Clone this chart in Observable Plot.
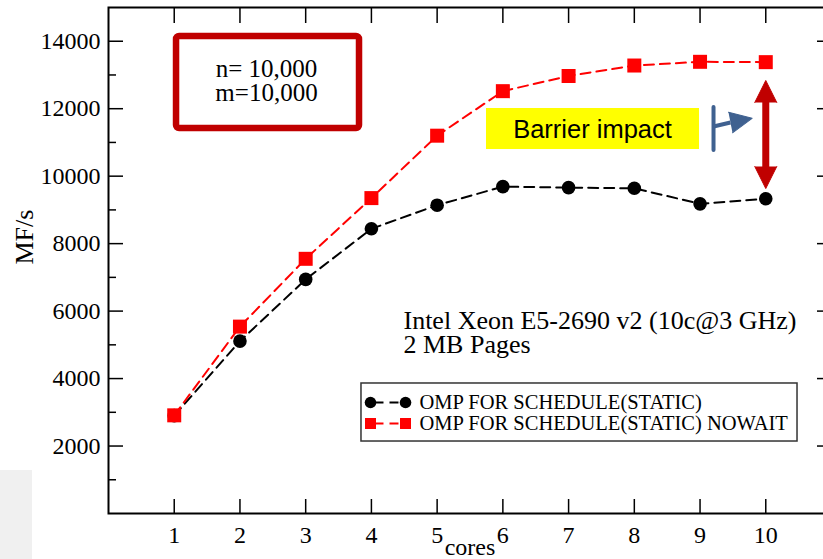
<!DOCTYPE html>
<html><head><meta charset="utf-8">
<script src="https://cdn.jsdelivr.net/npm/d3@7"></script>
<script src="https://cdn.jsdelivr.net/npm/@observablehq/plot@0.6"></script>
<style>
html,body{margin:0;padding:0;overflow:hidden;background:#fff;width:823px;height:559px}
#chart{position:relative;width:840px}
#chart svg{max-width:none !important}
#shade{position:absolute;left:0;top:470px;width:32px;height:89px;background:#f0f0f0}
</style></head><body><div id="chart"></div><div id="shade"></div>
<script>
// ---- data ----
const cores = [1, 2, 3, 4, 5, 6, 7, 8, 9, 10];
const staticVals = [2900, 5110, 6940, 8440, 9140, 9690, 9660, 9640, 9180, 9330];
const nowaitVals = [2910, 5540, 7550, 9350, 11200, 12520, 12970, 13280, 13390, 13380];
const seriesNames = ["OMP FOR SCHEDULE(STATIC)", "OMP FOR SCHEDULE(STATIC) NOWAIT"];
const yMajorTicks = [2000, 4000, 6000, 8000, 10000, 12000, 14000];
const yMinorTicks = [1000, 3000, 5000, 7000, 9000, 11000, 13000];
const xTicks = [1, 2, 3, 4, 5, 6, 7, 8, 9, 10];
const boxLines = ["n= 10,000", "m=10,000"];
const cpuLines = ["Intel Xeon E5-2690 v2 (10c@3 GHz)", "2 MB Pages"];
const barrierLabel = ["Barrier impact"];

// ---- annotation anchors (data units) ----
const paramBox = [{x1: 1.035, x2: 3.819, y1: 11413, y2: 14140}];
const paramTextPos = [{x: 2.404, y: 12806}];
const cpuTextPos = [{x: 4.488, y: 5336}];
const legendBox = [{x1: 3.849, x2: 10.483, y1: 2134, y2: 3854}];
const legendRowY = [3290, 2668];
const legendMarkX = [3.986, 4.519];
const legendTextX = 4.732;
const barrierBox = [{x1: 5.751, x2: 8.992, y1: 10790, y2: 12006}];
const barrierTextPos = [{x: 7.364, y: 11383}];
const flagPole = [{x: 9.205, y1: 10761, y2: 12035}];
const flagArm = [{x1: 9.205, y1: 11472, x2: 9.463, y2: 11591}];
const flagHead = [{x: 9.463, y: 11591, rotate: 79}];
const gapShaft = [{x: 10, y1: 10227, y2: 12243}];
const gapHeads = [{x: 10, y: 12184, rotate: 0}, {x: 10, y: 10286, rotate: 180}];

const blackData = cores.map((c, i) => ({x: c, y: staticVals[i]}));
const redData = cores.map((c, i) => ({x: c, y: nowaitVals[i]}));
const legendLines = legendRowY.map((y, i) => ({x1: legendMarkX[0], x2: legendMarkX[1], y, s: i}));
const legendMarks = legendRowY.flatMap((y, i) => legendMarkX.map(x => ({x, y, s: i})));
const legendTexts = legendRowY.map((y, i) => ({x: legendTextX, y, t: seriesNames[i]}));

const RED = "#ff0000", DARKRED = "#c00000", BLUE = "#3f6190";
const noText = () => "";

const chart = Plot.plot({
  width: 840, height: 559,
  marginLeft: 108, marginRight: 9, marginTop: 7, marginBottom: 46,
  x: {domain: [0, 11]},
  y: {domain: [0, 15000]},
  style: {fontFamily: "'Liberation Serif', 'Times New Roman', serif", fontSize: "24px", color: "black", background: "white", overflow: "visible"},
  marks: [
    // inward ticks
    Plot.axisY(yMajorTicks, {anchor: "left", tickSize: 15, dx: 15, tickFormat: noText, label: null, strokeWidth: 1.5}),
    Plot.axisY(yMinorTicks, {anchor: "left", tickSize: 8, dx: 8, tickFormat: noText, label: null, strokeWidth: 1.5}),
    Plot.axisY(yMajorTicks, {anchor: "right", tickSize: 15, dx: -15, tickFormat: noText, label: null, strokeWidth: 1.5}),
    Plot.axisY(yMinorTicks, {anchor: "right", tickSize: 8, dx: -8, tickFormat: noText, label: null, strokeWidth: 1.5}),
    Plot.axisX(xTicks, {anchor: "top", tickSize: 15, dy: 15, tickFormat: noText, label: null, strokeWidth: 1.5}),
    Plot.axisX(xTicks, {anchor: "bottom", tickSize: 14, dy: -14, tickFormat: noText, label: null, strokeWidth: 1.5}),
    // tick labels
    Plot.axisY(yMajorTicks, {anchor: "left", tickSize: 0, tickPadding: 8, label: null, fontSize: 24, tickFormat: d => String(d)}),
    Plot.axisX(xTicks, {anchor: "bottom", tickSize: 0, tickPadding: 12, label: null, fontSize: 24, tickFormat: d => String(d)}),
    Plot.text(["cores"], {text: d => d, frameAnchor: "bottom", dy: 41, fontSize: 24}),
    Plot.text(["MF/s"], {text: d => d, frameAnchor: "left", rotate: -90, dx: -84, dy: 4, fontSize: 26}),
    Plot.frame({stroke: "black", strokeWidth: 2}),

    // parameter box
    Plot.rect(paramBox, {x1: "x1", x2: "x2", y1: "y1", y2: "y2", fill: "white", stroke: DARKRED, strokeWidth: 6.5, rx: 3}),
    Plot.text(paramTextPos, {x: "x", y: "y", text: () => boxLines.join("\n"), lineHeight: 0.96, fontSize: 25}),

    // barrier annotation
    Plot.rect(barrierBox, {x1: "x1", x2: "x2", y1: "y1", y2: "y2", fill: "#ffff00"}),
    Plot.text(barrierTextPos, {x: "x", y: "y", text: (d, i) => barrierLabel[i], fontSize: 25.5, fontFamily: "'Liberation Sans', Arial, sans-serif"}),
    Plot.ruleX(flagPole, {x: "x", y1: "y1", y2: "y2", stroke: BLUE, strokeWidth: 4, strokeLinecap: "round"}),
    Plot.link(flagArm, {x1: "x1", y1: "y1", x2: "x2", y2: "y2", stroke: BLUE, strokeWidth: 4}),
    Plot.vector(flagHead, {x: "x", y: "y", rotate: "rotate", length: 22, r: 10.5, shape: "spike", anchor: "start", fill: BLUE, stroke: BLUE, strokeWidth: 1}),
    Plot.ruleX(gapShaft, {x: "x", y1: "y1", y2: "y2", stroke: DARKRED, strokeWidth: 7}),
    Plot.vector(gapHeads, {x: "x", y: "y", rotate: "rotate", length: 22, r: 11, shape: "spike", anchor: "start", fill: DARKRED, stroke: DARKRED, strokeWidth: 1}),

    // cpu text
    Plot.text(cpuTextPos, {x: "x", y: "y", text: () => cpuLines.join("\n"), lineHeight: 0.92, textAnchor: "start", fontSize: 26}),

    // legend
    Plot.rect(legendBox, {x1: "x1", x2: "x2", y1: "y1", y2: "y2", fill: "white", stroke: "#333", strokeWidth: 1.5}),
    Plot.link(legendLines, {x1: "x1", x2: "x2", y1: "y", y2: "y", stroke: d => d.s ? RED : "black", strokeWidth: 2, strokeDasharray: "9,6", strokeDashoffset: -4}),
    Plot.dot(legendMarks.filter(d => d.s === 0), {x: "x", y: "y", r: 5.8, fill: "black", stroke: "none", symbol: "circle"}),
    Plot.dot(legendMarks.filter(d => d.s === 1), {x: "x", y: "y", r: 6.2, fill: RED, stroke: "none", symbol: "square"}),
    Plot.text(legendTexts, {x: "x", y: "y", text: "t", textAnchor: "start", fontSize: 20.5}),

    // series
    Plot.line(blackData, {x: "x", y: "y", stroke: "black", strokeWidth: 2, strokeDasharray: "10,6"}),
    Plot.dot(blackData, {x: "x", y: "y", r: 6.8, fill: "black", stroke: "none", symbol: "circle"}),
    Plot.line(redData, {x: "x", y: "y", stroke: RED, strokeWidth: 2, strokeDasharray: "10,6"}),
    Plot.dot(redData, {x: "x", y: "y", r: 7.9, fill: RED, stroke: "none", symbol: "square"})
  ]
});
document.getElementById("chart").appendChild(chart);
</script>
</body></html>
